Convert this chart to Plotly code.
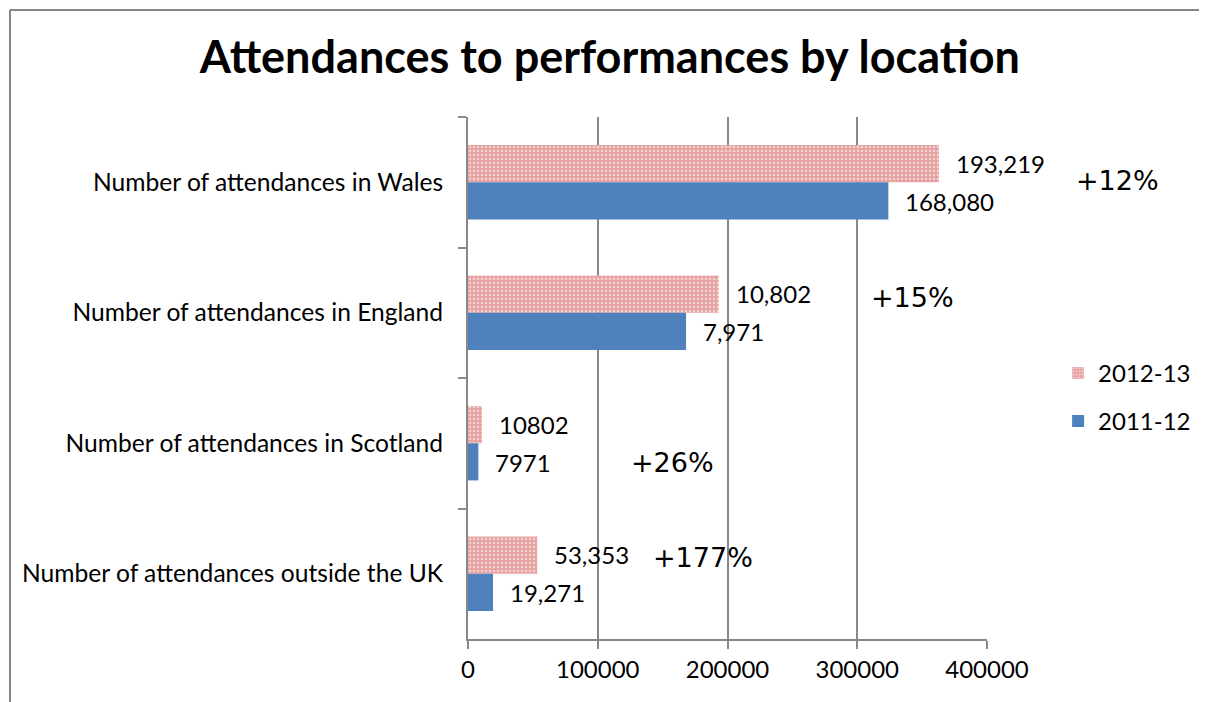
import plotly.graph_objects as go

categories = ["Number of attendances in Wales", "Number of attendances in England",
              "Number of attendances in Scotland", "Number of attendances outside the UK"]
series_names = ["2012-13", "2011-12"]
values_2012 = [363000, 193219, 10802, 53353]
values_2011 = [324000, 168080, 7971, 19271]
labels_2012 = ["193,219", "10,802", "10802", "53,353"]
labels_2011 = ["168,080", "7,971", "7971", "19,271"]
change_labels = ["+12%", "+15%", "+26%", "+177%"]
x_ticks = [0, 100000, 200000, 300000, 400000]

# positions of the free change labels (paper x, y pixel shift from category centre)
change_x = [1.167, 0.773, 0.31, 0.352]
change_yshift = [2, 15, -19, 16]

FONT = "Lato"
FS = 24
fig = go.Figure()
fig.add_trace(go.Bar(
    y=categories, x=values_2012, orientation="h", name=series_names[0],
    marker=dict(color="#E6A2A1", line=dict(width=0),
                pattern=dict(shape=".", fgcolor="#ffffff", size=4, solidity=0.35)),
    legendgroup="a"))
fig.add_trace(go.Bar(
    y=categories, x=values_2011, orientation="h", name=series_names[1],
    marker=dict(color="#4F81BD", line=dict(width=0)), legendgroup="b"))

ann = []
for i, c in enumerate(categories):
    ann.append(dict(x=values_2012[i], y=c, xref="x", yref="y", text=labels_2012[i],
                    showarrow=False, xanchor="left", xshift=15, yshift=19,
                    font=dict(family=FONT, size=FS, color="#000")))
    ann.append(dict(x=values_2011[i], y=c, xref="x", yref="y", text=labels_2011[i],
                    showarrow=False, xanchor="left", xshift=15, yshift=-19,
                    font=dict(family=FONT, size=FS, color="#000")))
    ann.append(dict(x=change_x[i], y=c, xref="paper", yref="y", text=change_labels[i],
                    showarrow=False, xanchor="left", yshift=change_yshift[i],
                    font=dict(family="DejaVu Sans", size=27, color="#000")))

border = dict(color="#868686", width=2)
fig.update_layout(
    width=1199, height=694,
    margin=dict(l=460, r=220, t=109, b=63, autoexpand=False),
    paper_bgcolor="white", plot_bgcolor="white",
    barmode="group", bargap=0.43, bargroupgap=0,
    title=dict(text="<b>Attendances to performances by location</b>", x=0.502, xanchor="center",
               y=0.929, yanchor="middle", font=dict(family=FONT, size=45, color="#000")),
    font=dict(family=FONT, size=FS, color="#000"),
    xaxis=dict(range=[0, 400000], tickvals=x_ticks, ticktext=[str(v) for v in x_ticks],
               showgrid=True, gridcolor="#888888", gridwidth=2, showline=True, linecolor="#888888",
               linewidth=2, ticks="outside", ticklen=8, tickcolor="#888888", tickwidth=2,
               zeroline=False, tickfont=dict(family=FONT, size=FS)),
    yaxis=dict(autorange="reversed", showline=True, linecolor="#888888", linewidth=2,
               ticks="outside", tickson="boundaries", ticklen=8, tickcolor="#888888", tickwidth=2,
               showgrid=False, tickfont=dict(family=FONT, size=24.6), ticklabelstandoff=18),
    legend=dict(x=1.137, y=0.463, xanchor="left", yanchor="middle", tracegroupgap=14,
                font=dict(family=FONT, size=FS), bgcolor="rgba(0,0,0,0)"),
    annotations=ann,
    shapes=[dict(type="line", xref="paper", yref="paper", x0=-0.8825, x1=-0.8825, y0=-0.3, y1=1.205,
                 line=border, layer="below"),
            dict(type="line", xref="paper", yref="paper", x0=-0.8825, x1=1.6, y0=1.205, y1=1.205,
                 line=border, layer="below")],
)
fig.write_html("out.html")
